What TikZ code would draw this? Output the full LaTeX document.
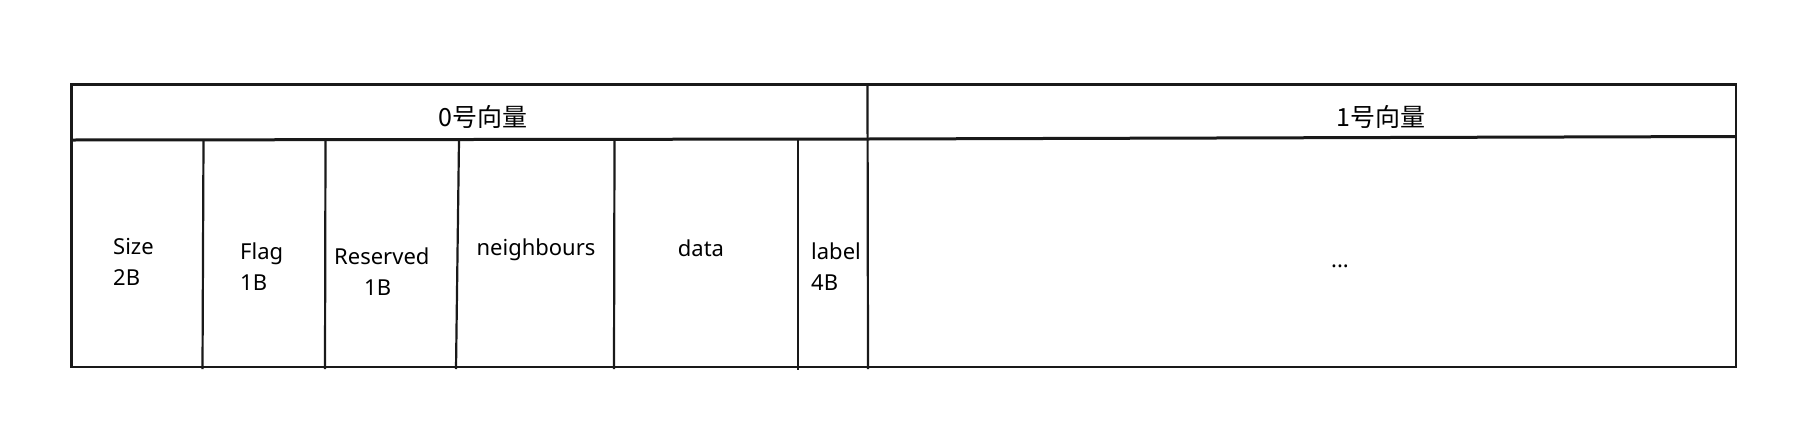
\documentclass[tikz,border=0pt]{standalone}
\usepackage{fontspec}
\setmainfont{Noto Sans}
\newfontfamily\cjk{Noto Sans CJK SC}
\begin{document}
\begin{tikzpicture}[x=1pt,y=-1pt,
  frame/.style={draw=black!90,line width=2.2pt},
  sep/.style={draw=black!90,line width=3pt},
  lbl/.style={font=\fontsize{22}{31}\selectfont,inner sep=0pt,align=left},
  hdr/.style={font=\cjk\fontsize{25}{28}\selectfont,inner sep=0pt}]
\useasboundingbox[fill=white] (0,0) rectangle (1811,437);
% corners
\coordinate (TL) at (71.5,84.5);
\coordinate (TR) at (1736,84.5);
\coordinate (BL) at (71.5,367);
\coordinate (BR) at (1736,367);
\coordinate (HL) at (71.5,140);
\coordinate (HM) at (867.5,139);
\coordinate (HR) at (1736,136.5);
% outer frame
\draw[frame] (TL) -- (TR) -- (BR) -- (BL) -- cycle;
% header separator
\draw[sep] (HL) -- (HM) -- (HR);
% vector divider
\draw[frame] (867.5,84.5) -- (868,369);
% field dividers
\draw[frame] (203.5,140) -- (202.5,369);
\draw[frame] (325.5,140) -- (325,369);
\draw[frame] (459,140) -- (456,369);
\draw[frame] (614.5,140) -- (614,369);
\draw[frame] (798,139) -- (798,370);
% header texts
\node[hdr] (v0) at (483,117) {0号向量};
\node[hdr] (v1) at (1381,117) {1号向量};
% field texts
\node[lbl,anchor=west] (size) at (113,262) {Size\\2B};
\node[lbl,anchor=west] (flag) at (240,267) {Flag\\1B};
\node[lbl,anchor=west] (res) at (334,272) {Reserved\\\hspace{30pt}1B};
\node[lbl] (nb) at (536,250) {neighbours};
\node[lbl] (data) at (701,248) {data};
\node[lbl,anchor=west] (label) at (811,267) {label\\4B};
\node[lbl] (dots) at (1340,266) {...};
\end{tikzpicture}
\end{document}
